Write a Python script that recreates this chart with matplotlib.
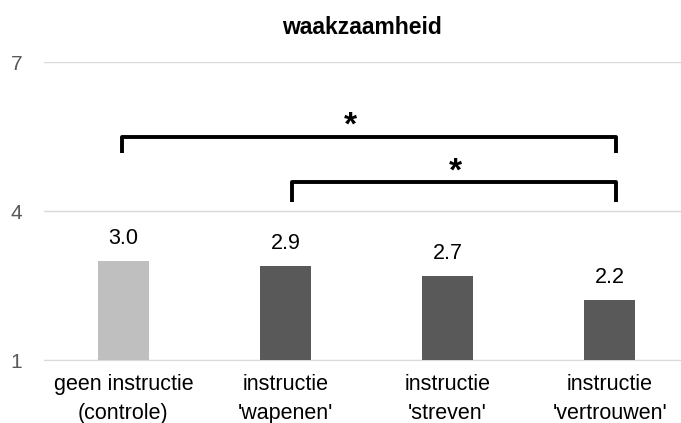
import matplotlib.pyplot as plt

plt.rcParams['font.family'] = ['Liberation Sans', 'DejaVu Sans']

categories = ["geen instructie\n(controle)", "instructie\n'wapenen'",
              "instructie\n'streven'", "instructie\n'vertrouwen'"]
values = [3.0, 2.9, 2.7, 2.2]
bar_colors = ['#BFBFBF', '#595959', '#595959', '#595959']

# significance brackets: (left bar, right bar, line height, leg bottom, star x)
brackets = [(0, 3, 5.49, 5.16, 1.40),
            (1, 3, 4.58, 4.18, 2.05)]

fig = plt.figure(figsize=(6.81, 4.23), dpi=100)
ax = fig.add_axes([44 / 681, 63 / 423, 637 / 681, 298 / 423])

x = list(range(len(categories)))
ax.bar(x, [v - 1 for v in values], bottom=1, width=0.315, color=bar_colors, zorder=3)

for xi, v in zip(x, values):
    ax.text(xi, v + 0.24, f'{v:.1f}', ha='center', va='bottom', fontsize=15.5, color='#000000')

for left, right, top, leg, sx in brackets:
    lx = left - 0.01 if left == 0 else left + 0.04
    rx = right + 0.04
    ax.plot([lx, lx, rx, rx], [leg, top, top, leg], color='black', lw=2.8,
            solid_joinstyle='round', solid_capstyle='butt', zorder=4)
    ax.text(sx, top - 0.1, '*', ha='center', va='bottom', fontsize=24, fontweight='bold')

ax.set_xlim(-0.49, 3.44)
ax.set_ylim(1, 7)
ax.set_yticks([1, 4, 7])
ax.yaxis.grid(True, color='#D9D9D9', lw=1)
ax.set_axisbelow(True)
ax.set_xticks(x)
ax.set_xticklabels(categories, fontsize=15.5, color='#000000', linespacing=1.5)
ax.tick_params(axis='y', length=0, pad=24, labelsize=15, labelcolor='#595959')
ax.tick_params(axis='x', length=0, pad=10)
for lbl in ax.get_yticklabels():
    lbl.set_horizontalalignment('left')
for s in ['top', 'right', 'left']:
    ax.spines[s].set_visible(False)
ax.spines['bottom'].set_color('#D9D9D9')

fig.text(362 / 681, 1 - 28 / 423, 'waakzaamheid', ha='center', va='center',
         fontsize=16.5, fontweight='bold')

fig.savefig('out.png', dpi=100)
